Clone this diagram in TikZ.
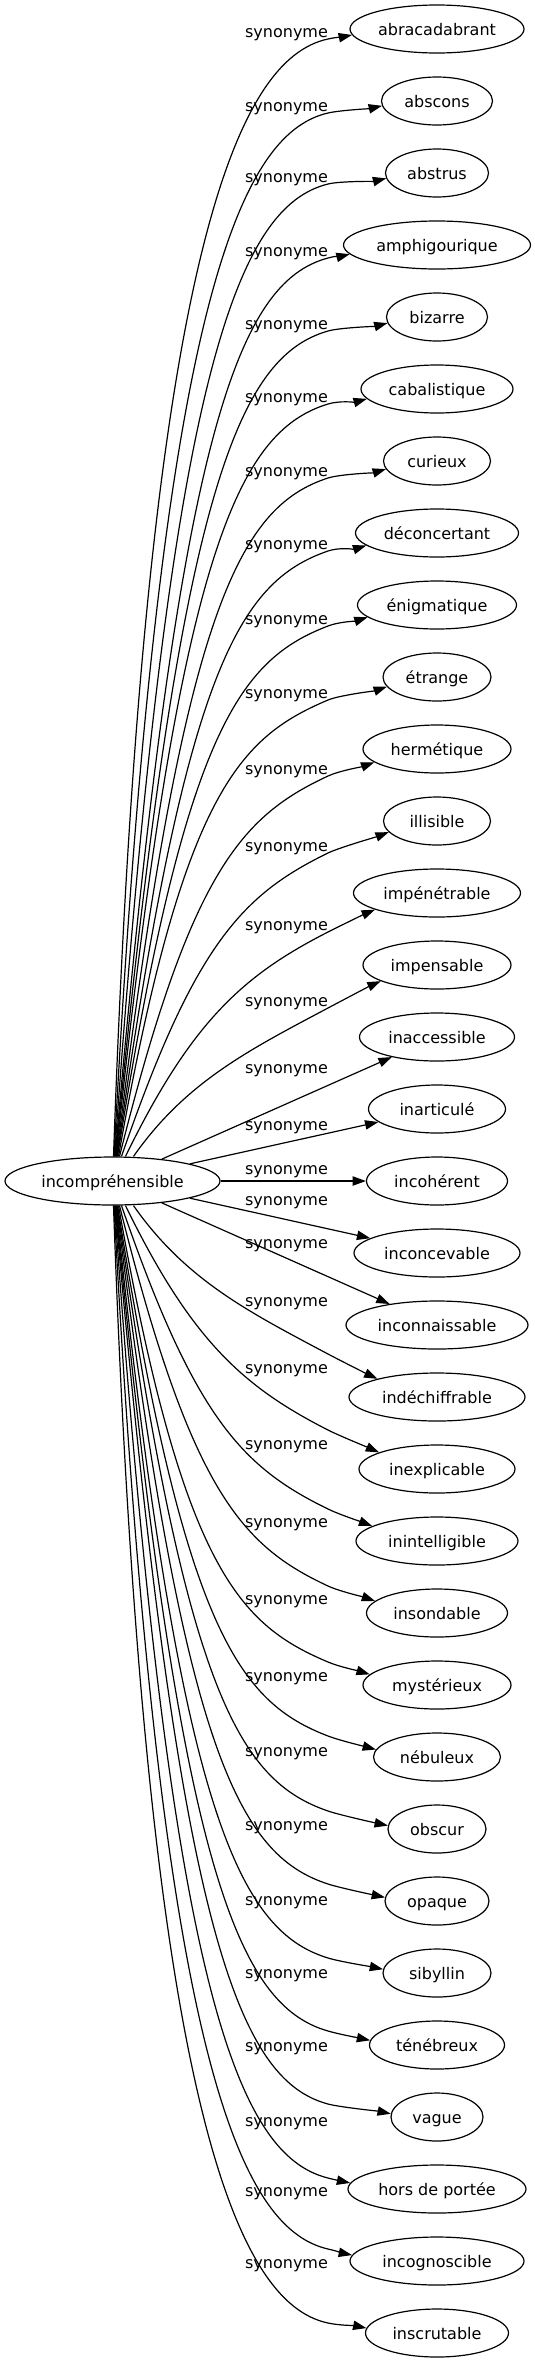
\documentclass[tikz,border=0pt]{standalone}
\usepackage{fontspec}
\setmainfont{DejaVu Sans}
\usetikzlibrary{shapes.geometric,arrows.meta,calc}
\newcommand\cedge[9]{%
  \pgfmathsetmacro\eyB{#3+(#1)*(#4)}%
  \pgfmathsetmacro\eSp{abs(1181-(#1)*24-\eyB)}%
  \pgfmathsetmacro\eCx{(#7)*\eSp*cot(#6)}%
  \pgfmathsetmacro\eCy{(#1)*(#7)*\eSp}%
  \pgfmathsetmacro\eL{min(95,0.6*\eSp)}%
  \pgfmathsetmacro\eCtx{328-\eL*cos(#8)}%
  \pgfmathsetmacro\eCty{-\eyB-(#1)*\eL*sin(#8)}%
  \pgfmathsetmacro\eDx{12*cos(#8)}%
  \pgfmathsetmacro\eDy{(#1)*12*sin(#8)}%
  \pgfmathtruncatemacro\eAng{180+(#1)*(#9)}%
  \pgfmathsetmacro\eArr{180+(#1)*(#9+8)}%
  \ifnum#1>0 \def\eSide{north}\else\def\eSide{south}\fi
  \draw[conn] ($(c.\eSide)+(#5,0)$) .. controls +(\eCx,\eCy) and (\eCtx,\eCty) .. (328,-\eyB) .. controls +(\eDx,\eDy) and +(\eArr:12) .. (#2.\eAng);%
}
\begin{document}
\begin{tikzpicture}[x=0.75pt,y=0.75pt,
  word/.style={ellipse,draw,line width=0.9pt,inner sep=0pt,minimum height=36pt,
    font=\fontsize{12}{14}\selectfont,text height=9pt,text depth=0pt},
  lab/.style={inner sep=0pt,anchor=base,font=\fontsize{12}{14}\selectfont},
  conn/.style={draw,line width=0.9pt,-{Triangle[length=10pt,width=7pt]}}]
\useasboundingbox (0,0) rectangle (535,-2363);
\node[word,minimum width=215*0.75pt] (c) at (112.5,-1181) {incompréhensible};
\foreach \i/\w/\txt in {0/174/abracadabrant,1/111/abscons,2/103/abstrus,3/187/amphigourique,
  4/101/bizarre,5/152/cabalistique,6/107/curieux,7/163/déconcertant,8/159/énigmatique,
  9/108/étrange,10/148/hermétique,11/107/illisible,12/167/impénétrable,13/148/impensable,
  14/155/inaccessible,15/137/inarticulé,16/141/incohérent,17/166/inconcevable,
  18/182/inconnaissable,19/176/indéchiffrable,20/156/inexplicable,21/162/inintelligible,
  22/141/insondable,23/148/mystérieux,24/127/nébuleux,25/98/obscur,26/104/opaque,
  27/108/sibyllin,28/135/ténébreux,29/92/vague,30/178/hors de portée,31/174/incognoscible,
  32/143/inscrutable}{
  \node[word,minimum width=\w*0.75pt] (t\i) at (437,{-(29+72*\i)}) {\txt};
}
\foreach \i/\yl in {0/33,1/107,2/178,3/252,4/325,5/398,6/472,7/545,8/620,9/694,10/770,
  11/847,12/926,13/1002,14/1069,15/1126,16/1170,17/1201,18/1244,19/1302,20/1369,21/1445,
  22/1523,23/1600,24/1677,25/1752,26/1826,27/1901,28/1974,29/2047,30/2122,31/2192,32/2264}{
  \node[lab] (l\i) at (286.5,{-(\yl+4)}) {synonyme};
}
% upper curved edges
\cedge{1}{t0}{29}{10}{1}{88}{0.8}{12}{4}
\cedge{1}{t1}{101}{12}{1.5}{87}{0.8}{13}{5}
\cedge{1}{t2}{173}{11}{2}{86}{0.8}{14}{6}
\cedge{1}{t3}{245}{13}{2.5}{85}{0.8}{15}{6}
\cedge{1}{t4}{317}{14}{3}{84.5}{0.8}{16}{7}
\cedge{1}{t5}{389}{15}{3.5}{84}{0.8}{17}{8}
\cedge{1}{t6}{461}{17}{4}{83}{0.8}{18}{9}
\cedge{1}{t7}{533}{18}{4.5}{82}{0.8}{19}{10}
\cedge{1}{t8}{605}{21}{5}{81}{0.8}{21}{10}
\cedge{1}{t9}{677}{23}{6}{80}{0.8}{23}{11}
\cedge{1}{t10}{749}{27}{7}{76}{0.75}{25}{12}
\cedge{1}{t11}{821}{32}{9}{71}{0.7}{26}{13}
\cedge{1}{t12}{893}{39}{13}{64}{0.6}{27}{15}
\cedge{1}{t13}{965}{43}{21}{55}{0.5}{28}{16}
% straight edges
\draw[conn] (c) -- (t14);
\draw[conn] (c) -- (t15);
\draw[conn] (c) -- (t16);
\draw[conn] (c) -- (t17);
\draw[conn] (c) -- (t18);
% lower curved edges
\cedge{-1}{t19}{1397}{43}{21}{55}{0.5}{28}{17}
\cedge{-1}{t20}{1469}{39}{13}{64}{0.6}{27}{16}
\cedge{-1}{t21}{1541}{32}{9}{71}{0.7}{26}{13}
\cedge{-1}{t22}{1613}{27}{7}{76}{0.75}{25}{11}
\cedge{-1}{t23}{1685}{23}{6}{80}{0.8}{23}{9}
\cedge{-1}{t24}{1757}{21}{5}{81}{0.8}{21}{7}
\cedge{-1}{t25}{1829}{18}{4.5}{82}{0.8}{19}{4}
\cedge{-1}{t26}{1901}{17}{4}{83}{0.8}{18}{4}
\cedge{-1}{t27}{1973}{15}{3.5}{84}{0.8}{17}{4}
\cedge{-1}{t28}{2045}{14}{3}{84.5}{0.8}{16}{4}
\cedge{-1}{t29}{2117}{13}{2.5}{85}{0.8}{15}{4}
\cedge{-1}{t30}{2189}{11}{2}{86}{0.8}{14}{4}
\cedge{-1}{t31}{2261}{12}{1.5}{87}{0.8}{13}{4}
\cedge{-1}{t32}{2333}{10}{1}{88}{0.8}{12}{4}
\end{tikzpicture}
\end{document}
